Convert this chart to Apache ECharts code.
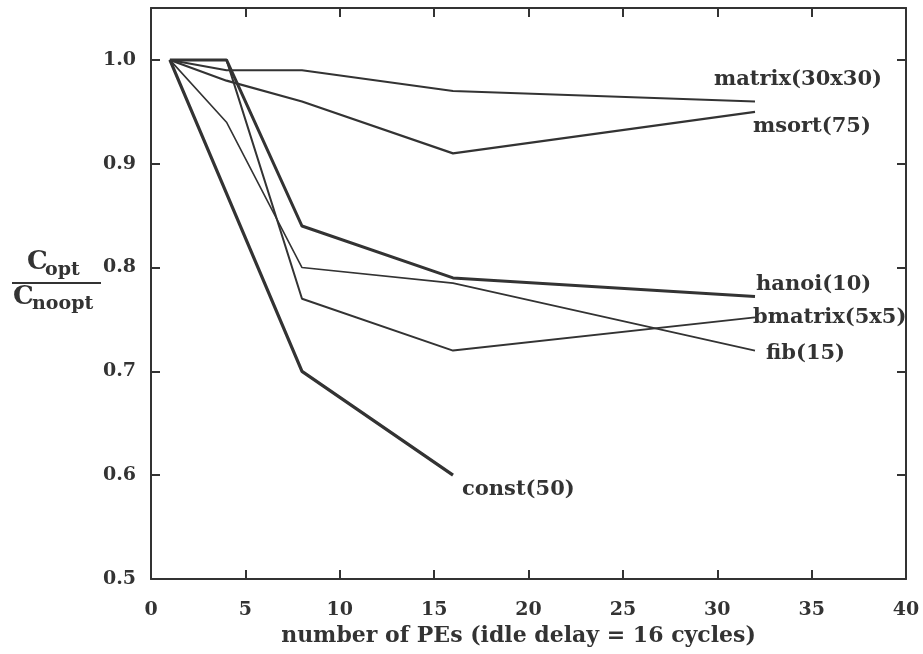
<!DOCTYPE html>
<html><head><meta charset="utf-8">
<script src="https://cdn.jsdelivr.net/npm/echarts@6/dist/echarts.min.js"></script>
<style>html,body{margin:0;padding:0;background:#fff}#c{width:923px;height:654px}</style>
</head><body><div id="c"></div>
<script>
const seriesNames = ['matrix(30x30)','msort(75)','hanoi(10)','bmatrix(5x5)','fib(15)','const(50)'];
const matrix = [[1,1.0],[4,0.99],[8,0.99],[16,0.97],[32,0.96]];
const msort  = [[1,1.0],[4,0.98],[8,0.96],[16,0.91],[32,0.95]];
const hanoi  = [[1,1.0],[4,1.0],[8,0.84],[16,0.79],[32,0.772]];
const bmatrix= [[1,1.0],[4,1.0],[8,0.77],[16,0.72],[32,0.752]];
const fib    = [[1,1.0],[4,0.94],[8,0.80],[16,0.785],[32,0.72]];
const constS = [[1,1.0],[8,0.70],[16,0.60]];
const xTicks = [0,5,10,15,20,25,30,35,40];
const yTicks = [0.5,0.6,0.7,0.8,0.9,1.0];

const FONT = 'DejaVu Serif';
const ink = '#333';
const widths = [2,2.2,3,2,1.6,3.2];
const offsets = [[-41,-22],[-2,15],[1,-12],[-2,0],[11,3],[9,14]];
const datas = [matrix,msort,hanoi,bmatrix,fib,constS];

const chart = echarts.init(document.getElementById('c'));
const axisCommon = {
  axisLine:{show:true,onZero:false,lineStyle:{color:ink,width:2}},
  axisTick:{show:true,inside:true,length:9,lineStyle:{color:ink,width:2}},
  splitLine:{show:false}
};
chart.setOption({
  animation:false,
  grid:{left:151,right:17,top:8,bottom:75,containLabel:false},
  xAxis:[
    Object.assign({type:'value',min:0,max:40,interval:5,position:'bottom',
      axisLabel:{color:ink,fontFamily:FONT,fontWeight:'bold',fontSize:19,margin:22,
        formatter:v=>xTicks.includes(v)?String(v):''},
      name:'number of PEs (idle delay = 16 cycles)',nameLocation:'middle',nameGap:46,
      nameTextStyle:{color:ink,fontFamily:FONT,fontWeight:'bold',fontSize:22,padding:[0,20,0,0]}},axisCommon),
    Object.assign({type:'value',min:0,max:40,interval:5,position:'top',axisLabel:{show:false}},axisCommon)
  ],
  yAxis:[
    Object.assign({type:'value',min:0.5,max:1.05,interval:0.1,position:'left',
      axisLabel:{color:ink,fontFamily:FONT,fontWeight:'bold',fontSize:19,margin:15,
        formatter:v=>{const t=yTicks.find(k=>Math.abs(k-v)<1e-6);return t!==undefined?t.toFixed(1):'';}}},axisCommon),
    Object.assign({type:'value',min:0.5,max:1.05,interval:0.1,position:'right',axisLabel:{show:false}},axisCommon)
  ],
  series: datas.map((d,i)=>({
    type:'line',name:seriesNames[i],data:d,symbol:'none',
    lineStyle:{color:ink,width:widths[i]},
    endLabel:{show:true,formatter:seriesNames[i],distance:0,offset:offsets[i],
      color:ink,fontFamily:FONT,fontWeight:'bold',fontSize:21}
  })),
  graphic:[
    {type:'text',left:27,top:249,style:{text:'C',font:'bold 26px '+FONT,fill:ink}},
    {type:'text',left:45,top:261,style:{text:'opt',font:'bold 19px '+FONT,fill:ink}},
    {type:'line',shape:{x1:12,y1:283,x2:101,y2:283},style:{stroke:ink,lineWidth:2}},
    {type:'text',left:13,top:284,style:{text:'C',font:'bold 26px '+FONT,fill:ink}},
    {type:'text',left:32,top:295,style:{text:'noopt',font:'bold 19px '+FONT,fill:ink}}
  ]
});
</script></body></html>
